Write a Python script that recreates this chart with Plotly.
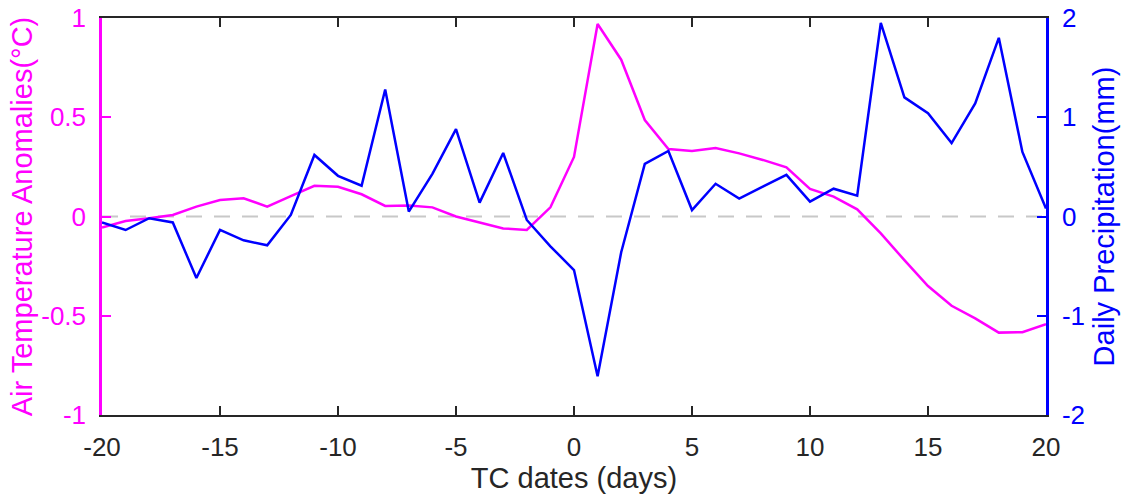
import plotly.graph_objects as go

days = list(range(-20, 21))

temp_anom = [-0.056, -0.023, -0.009, 0.008, 0.05, 0.083, 0.092, 0.05, 0.103, 0.155,
             0.15, 0.112, 0.053, 0.056, 0.046, 0.0, -0.03, -0.06, -0.068, 0.046,
             0.30, 0.97, 0.79, 0.486, 0.34, 0.33, 0.345, 0.318, 0.285, 0.248,
             0.139, 0.10, 0.036, -0.085, -0.22, -0.35, -0.45, -0.513, -0.585, -0.583,
             -0.543]

precip_anom = [-0.06, -0.136, -0.017, -0.06, -0.62, -0.135, -0.24, -0.29, 0.016, 0.62,
               0.41, 0.31, 1.28, 0.05, 0.43, 0.88, 0.14, 0.64, -0.035, -0.30,
               -0.54, -1.61, -0.36, 0.53, 0.66, 0.065, 0.33, 0.18, 0.30, 0.42,
               0.15, 0.28, 0.21, 1.95, 1.20, 1.04, 0.74, 1.14, 1.80, 0.65,
               0.08]

x_ticks = [-20, -15, -10, -5, 0, 5, 10, 15, 20]
left_ticks = [-1, -0.5, 0, 0.5, 1]
left_labels = ["-1", "-0.5", "0", "0.5", "1"]
right_ticks = [-2, -1, 0, 1, 2]
right_labels = ["-2", "-1", "0", "1", "2"]

MAG = "#FF00FF"
BLUE = "#0000FF"
DARK = "#262626"
FONT = "Liberation Sans, Arial, sans-serif"

fig = go.Figure()
fig.add_trace(go.Scatter(x=days, y=temp_anom, mode="lines",
                         line=dict(color=MAG, width=2.5), yaxis="y", showlegend=False))
fig.add_trace(go.Scatter(x=days, y=precip_anom, mode="lines",
                         line=dict(color=BLUE, width=2.5), yaxis="y2", showlegend=False))

fig.add_shape(type="line", xref="x", yref="y", x0=-20, x1=20, y0=0, y1=0,
              line=dict(color="#C8C8C8", width=2, dash="16px,12px"), layer="below")

fig.update_layout(
    width=1126, height=497,
    margin=dict(l=102, r=80, t=18, b=82),
    paper_bgcolor="white", plot_bgcolor="white",
    font=dict(family=FONT, size=26, color=DARK),
    xaxis=dict(range=[-20, 20], tickvals=x_ticks, ticktext=[str(v) for v in x_ticks],
               showgrid=False, zeroline=False, showline=True, linecolor=DARK, linewidth=2,
               mirror="ticks", ticks="inside", ticklen=9, tickwidth=2, tickcolor=DARK,
               tickfont=dict(size=26, color=DARK), ticklabelstandoff=8, automargin=False,
               title=dict(text="TC dates (days)", font=dict(size=29, color=DARK), standoff=2)),
    yaxis=dict(range=[-1, 1], tickvals=left_ticks, ticktext=left_labels,
               showgrid=False, zeroline=False, showline=True, linecolor=MAG, linewidth=2.5,
               ticks="inside", ticklen=9, tickwidth=2, tickcolor=MAG,
               tickfont=dict(size=26, color=MAG), ticklabelstandoff=8, automargin=False,
               title=dict(text="Air Temperature Anomalies(°C)", font=dict(size=29, color=MAG), standoff=1)),
    yaxis2=dict(range=[-2, 2], tickvals=right_ticks, ticktext=right_labels,
                overlaying="y", side="right",
                showgrid=False, zeroline=False, showline=True, linecolor=BLUE, linewidth=2.5,
                ticks="inside", ticklen=9, tickwidth=2, tickcolor=BLUE,
                tickfont=dict(size=26, color=BLUE), ticklabelstandoff=8, automargin=False,
                title=dict(text="Daily Precipitation(mm)", font=dict(size=29, color=BLUE), standoff=10)),
)

fig.write_html("out.html")
